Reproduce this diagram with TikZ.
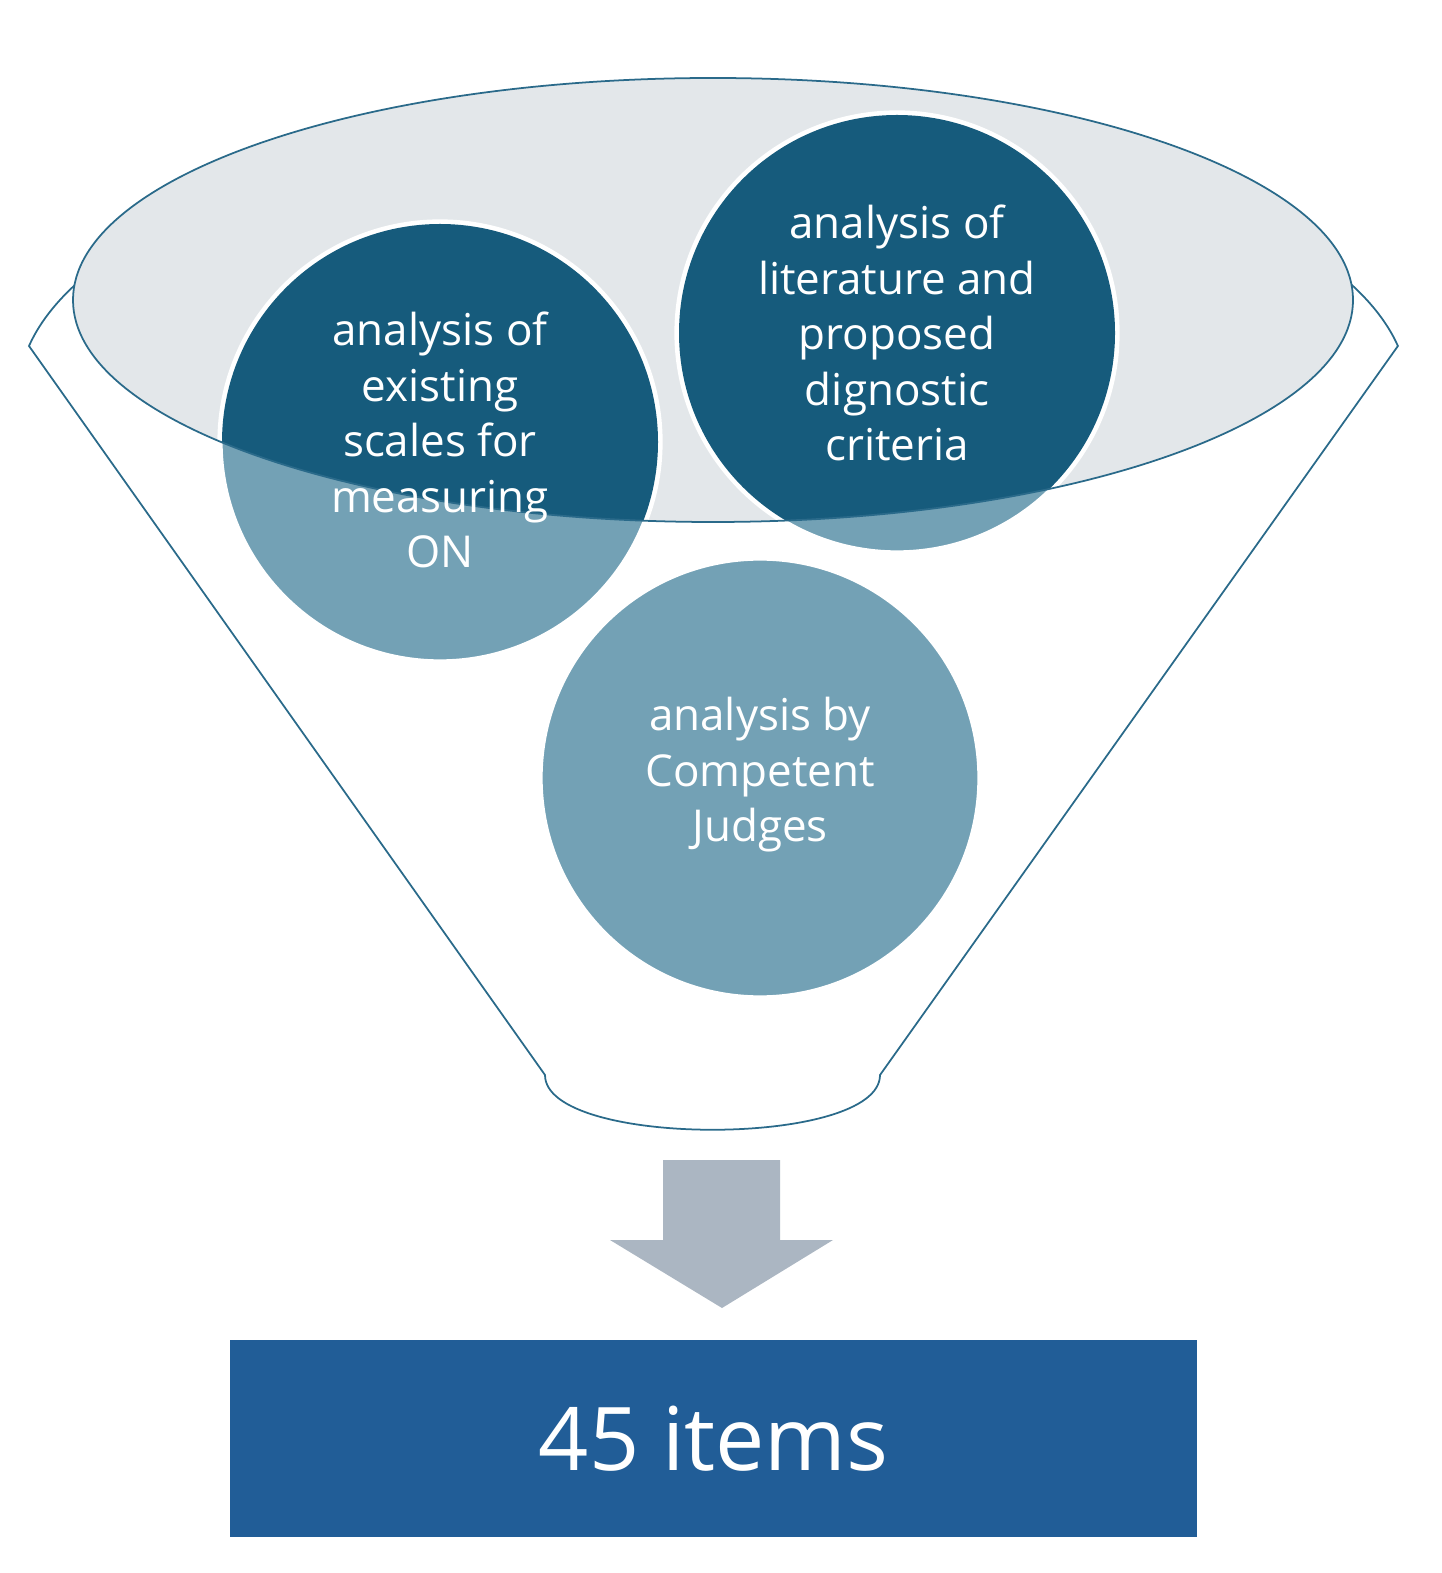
\documentclass[tikz,border=0pt]{standalone}
\usepackage{fontspec}
\setmainfont{Open Sans}
\definecolor{outl}{HTML}{2A6A8A}
\definecolor{ellfill}{HTML}{E3E7EA}
\definecolor{light}{HTML}{73A1B5}
\definecolor{dark}{HTML}{165B7C}
\definecolor{arr}{HTML}{ABB6C2}
\definecolor{boxc}{HTML}{215D97}
\begin{document}
\begin{tikzpicture}[x=0.1mm,y=-0.1mm,
  circ/.style={circle,minimum size=44mm,inner sep=0},
  ctext/.style={text=white,align=center,font=\fontsize{12.5}{15.8}\selectfont}]
\useasboundingbox (0,0) rectangle (1441,1573);
% funnel outline
\draw[outl,line width=0.5pt] (29,346) arc[start angle=190,end angle=350,x radius=695,y radius=275]
  -- (880,1075) .. controls (880,1148) and (545,1148) .. (545,1075) -- cycle;
% inner ellipse
\fill[ellfill] (713,300) ellipse[x radius=640,y radius=222];
% circles
\node[circ,fill=light,draw=white,line width=1.5pt] (c1) at (440,442) {};
\node[circ,fill=light,draw=white,line width=1.5pt] (c2) at (897,333) {};
\node[circ,fill=light,draw=white,line width=1.5pt] (c3) at (760,778) {};
\begin{scope}
\clip (713,300) ellipse[x radius=640,y radius=222];
\fill[dark] (440,442) circle[radius=218];
\fill[dark] (897,333) circle[radius=218];
\end{scope}
\draw[outl,line width=0.5pt] (713,300) ellipse[x radius=640,y radius=222];
\node[ctext] (t1) at (440,440) {analysis of\\existing\\scales for\\measuring\\ON};
\node[ctext] (t2) at (897,333) {analysis of\\literature and\\proposed\\dignostic\\criteria};
\node[ctext] (t3) at (760,775) {analysis by\\Competent\\Judges};
% arrow
\fill[arr] (663,1160) -- (780,1160) -- (780,1240) -- (833,1240) -- (722,1308) -- (610,1240) -- (663,1240) -- cycle;
% box
\node[fill=boxc,minimum width=96.7mm,minimum height=19.7mm,inner sep=0,text=white,font=\fontsize{25}{30}\selectfont] (box) at (713.5,1438.5) {45 items};
\end{tikzpicture}
\end{document}
